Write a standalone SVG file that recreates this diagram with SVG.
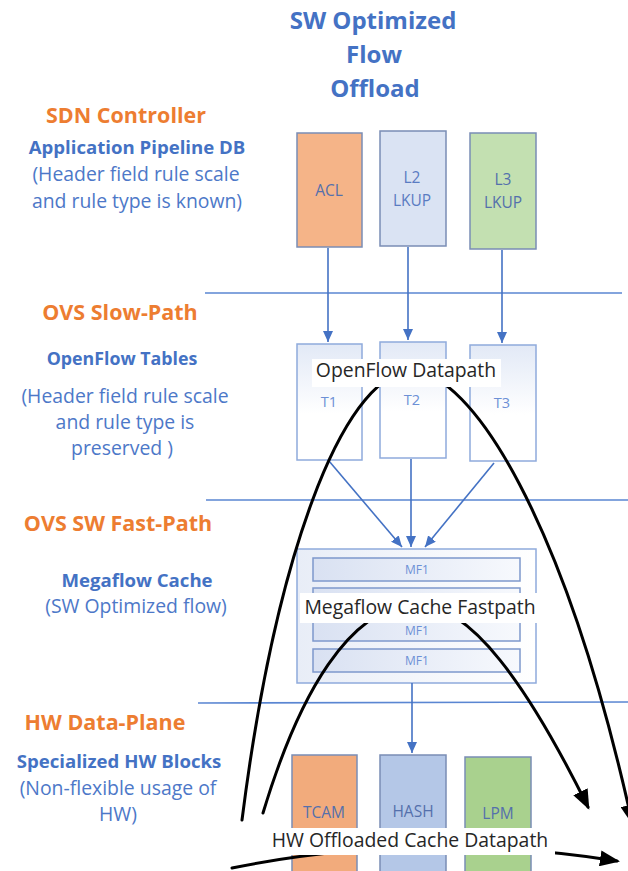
<svg xmlns="http://www.w3.org/2000/svg" width="628" height="871" viewBox="0 0 628 871">
  <defs>
    <style>
      text { font-family: "Open Sans", "Liberation Sans", sans-serif; }
      .title { font-weight: bold; font-size: 24px; fill: #4472C4; text-anchor: middle; }
      .layer { font-weight: bold; font-size: 21.5px; fill: #ED7D31; text-anchor: middle; }
      .sub { font-weight: bold; font-size: 18.6px; fill: #4472C4; text-anchor: middle; }
      .note { font-size: 19.4px; fill: #4D78C8; text-anchor: middle; }
      .sep { stroke: #5A86D2; stroke-width: 1.6; fill: none; }
      .blk { stroke: #7A8DB5; stroke-width: 1.5; }
      .blkText { font-size: 15.5px; fill: #5470AC; text-anchor: middle; }
      .tbl { fill: url(#tblFill); stroke: #8FAADC; stroke-width: 1.5; }
      .tText { font-size: 14.5px; fill: #6C90D6; text-anchor: middle; }
      .mf { fill: url(#mfFill); stroke: #7E98CC; stroke-width: 1.5; }
      .mfText { font-size: 12px; fill: #6C90D6; text-anchor: middle; }
      .flow { stroke: #4472C4; stroke-width: 1.6; fill: none; marker-end: url(#blueHead); }
      .dp { stroke: #000; stroke-width: 3; fill: none; stroke-linecap: round; }
      .dpLabel { font-size: 19.4px; fill: #262626; text-anchor: middle; }
    </style>
    <linearGradient id="tblFill" x1="0" y1="0" x2="0" y2="1">
      <stop offset="0" stop-color="#E2E9F6"/>
      <stop offset="0.6" stop-color="#FFFFFF"/>
    </linearGradient>
    <linearGradient id="cacheFill" x1="0" y1="0" x2="1" y2="0">
      <stop offset="0" stop-color="#E8EDF7"/>
      <stop offset="1" stop-color="#FFFFFF"/>
    </linearGradient>
    <linearGradient id="mfFill" x1="0" y1="0" x2="1" y2="0">
      <stop offset="0" stop-color="#D9E1F2"/>
      <stop offset="1" stop-color="#F7F9FD"/>
    </linearGradient>
    <marker id="blueHead" markerUnits="userSpaceOnUse" markerWidth="11" markerHeight="10" refX="11" refY="5" orient="auto">
      <path d="M0,0 L11,5 L0,10 z" fill="#4472C4"/>
    </marker>
    <marker id="blackHead" markerUnits="userSpaceOnUse" markerWidth="20" markerHeight="16" refX="17" refY="8" orient="auto">
      <path d="M0,0 L20,8 L0,16 z" fill="#000"/>
    </marker>
  </defs>

  <rect width="628" height="871" fill="#FFFFFF"/>

  <!-- heading -->
  <g id="title">
    <text class="title" x="373" y="29">SW Optimized</text>
    <text class="title" x="374" y="63">Flow</text>
    <text class="title" x="375" y="97">Offload</text>
  </g>

  <!-- layer captions -->
  <g id="sdn-controller">
    <text class="layer" x="126" y="123">SDN Controller</text>
    <text class="sub" x="137" y="154">Application Pipeline DB</text>
    <text class="note" x="136" y="181">(Header field rule scale</text>
    <text class="note" x="137" y="208">and rule type is known)</text>
  </g>
  <g id="ovs-slow-path">
    <text class="layer" x="120" y="320">OVS Slow-Path</text>
    <text class="sub" x="122" y="365" style="font-size:17.8px">OpenFlow Tables</text>
    <text class="note" x="125" y="403">(Header field rule scale</text>
    <text class="note" x="125" y="429">and rule type is</text>
    <text class="note" x="122" y="455">preserved )</text>
  </g>
  <g id="ovs-sw-fast-path">
    <text class="layer" x="118" y="531">OVS SW Fast-Path</text>
    <text class="sub" x="137" y="587">Megaflow Cache</text>
    <text class="note" x="136" y="613">(SW Optimized flow)</text>
  </g>
  <g id="hw-data-plane">
    <text class="layer" x="105" y="730">HW Data-Plane</text>
    <text class="sub" x="119" y="768">Specialized HW Blocks</text>
    <text class="note" x="118" y="795">(Non-flexible usage of</text>
    <text class="note" x="118" y="821">HW)</text>
  </g>

  <!-- layer separators -->
  <g id="separators">
    <line class="sep" x1="205" y1="293" x2="622" y2="293"/>
    <line class="sep" x1="206" y1="500" x2="628" y2="500"/>
    <line class="sep" x1="198" y1="703" x2="628" y2="702"/>
  </g>

  <!-- application pipeline stages -->
  <g id="acl">
    <rect class="blk" x="297" y="133" width="65" height="114" fill="#F5B488"/>
    <text class="blkText" x="329" y="196">ACL</text>
  </g>
  <g id="l2-lkup">
    <rect class="blk" x="380" y="131" width="66" height="115" fill="#DAE3F3"/>
    <text class="blkText" x="412" y="183" style="fill:#5A7CC2">L2</text>
    <text class="blkText" x="412" y="206" style="fill:#5A7CC2">LKUP</text>
  </g>
  <g id="l3-lkup">
    <rect class="blk" x="470" y="133" width="66" height="116" fill="#C3E0B1"/>
    <text class="blkText" x="503" y="185">L3</text>
    <text class="blkText" x="503" y="208">LKUP</text>
  </g>

  <!-- OpenFlow tables -->
  <g id="t1">
    <rect class="tbl" x="297" y="344" width="65" height="116"/>
    <text class="tText" x="329" y="407">T1</text>
  </g>
  <g id="t2">
    <rect class="tbl" x="380" y="342" width="66" height="116"/>
    <text class="tText" x="412" y="405">T2</text>
  </g>
  <g id="t3">
    <rect class="tbl" x="470" y="345" width="66" height="116"/>
    <text class="tText" x="502" y="408">T3</text>
  </g>

  <!-- megaflow cache: four entries, the second one sits behind the fastpath label -->
  <g id="megaflow-cache">
    <rect x="297" y="549" width="239" height="134" fill="url(#cacheFill)" stroke="#8FAADC" stroke-width="1.5"/>
    <rect class="mf" x="313" y="558" width="207" height="23"/>
    <text class="mfText" x="417" y="574">MF1</text>
    <rect class="mf" x="313" y="588" width="207" height="23"/>
    <rect class="mf" x="313" y="618" width="207" height="23"/>
    <text class="mfText" x="417" y="635">MF1</text>
    <rect class="mf" x="313" y="649" width="207" height="23"/>
    <text class="mfText" x="417" y="665">MF1</text>
  </g>

  <!-- hardware blocks -->
  <g id="tcam">
    <rect class="blk" x="292" y="755" width="65" height="130" fill="#F2AB7C"/>
    <text class="blkText" x="324" y="818">TCAM</text>
  </g>
  <g id="hash">
    <rect class="blk" x="380" y="755" width="66" height="130" fill="#B4C7E7"/>
    <text class="blkText" x="413" y="817">HASH</text>
  </g>
  <g id="lpm">
    <rect class="blk" x="465" y="757" width="66" height="130" fill="#A9D18E"/>
    <text class="blkText" x="498" y="819">LPM</text>
  </g>

  <!-- connectors -->
  <g id="connectors">
    <line class="flow" x1="328" y1="248" x2="328" y2="342"/>
    <line class="flow" x1="408" y1="247" x2="408" y2="340"/>
    <line class="flow" x1="502" y1="250" x2="502" y2="343"/>
    <line class="flow" x1="329" y1="461" x2="402" y2="547"/>
    <line class="flow" x1="411" y1="459" x2="411" y2="547"/>
    <line class="flow" x1="494" y1="463" x2="425" y2="547"/>
    <line class="flow" x1="412" y1="683" x2="412" y2="753"/>

    <!-- datapath arcs -->
    <path class="dp" d="M242,820 C275,560 340,380 410,370 C472,372 565,520 632,822" marker-end="url(#blackHead)"/>
    <path class="dp" d="M263,813 C300,690 350,610 412,604 C470,600 530,690 588,807" marker-end="url(#blackHead)"/>
    <path class="dp" d="M232,868 Q420,830 617,861" marker-end="url(#blackHead)"/>
  </g>

  <!-- datapath labels -->
  <g id="openflow-datapath">
    <rect x="312" y="359" width="189" height="28" fill="#FFFFFF"/>
    <text class="dpLabel" x="406" y="377">OpenFlow Datapath</text>
  </g>
  <g id="megaflow-fastpath">
    <rect x="300" y="593" width="241" height="30" fill="#FFFFFF"/>
    <text class="dpLabel" x="420" y="614">Megaflow Cache Fastpath</text>
  </g>
  <g id="hw-offloaded-datapath">
    <rect x="265" y="828" width="290" height="27" fill="#FFFFFF"/>
    <text class="dpLabel" x="410" y="847">HW Offloaded Cache Datapath</text>
  </g>
</svg>
